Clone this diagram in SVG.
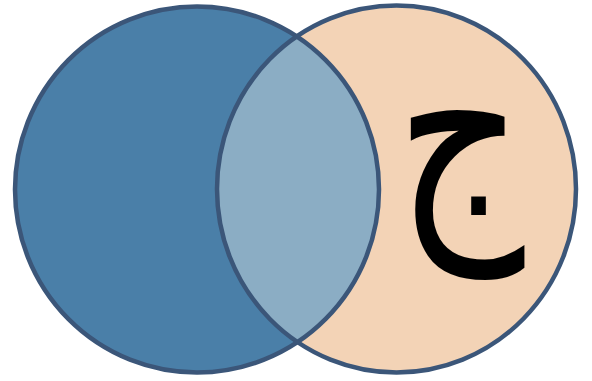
<svg xmlns="http://www.w3.org/2000/svg" width="592" height="381" viewBox="0 0 592 381">
<style>
.edge{fill:none;stroke:#3b5679;stroke-width:4.5}
.glyph{font-family:"DejaVu Sans","Noto Sans",sans-serif;fill:#000}
</style>
<defs>
<clipPath id="clipRight"><ellipse cx="396.5" cy="189" rx="179.5" ry="183.5"/></clipPath>
</defs>
<rect width="592" height="381" fill="#ffffff"/>
<g id="left-set">
<ellipse cx="197" cy="189.5" rx="182" ry="183" fill="#4a7fa8"/>
</g>
<g id="right-set">
<ellipse cx="396.5" cy="189" rx="179.5" ry="183.5" fill="#f3d3b6"/>
<text class="glyph" x="460" y="230" font-size="200" text-anchor="middle" transform="translate(0,275) scale(1,1.27) translate(0,-275)">ج</text>
</g>
<g id="intersection">
<ellipse cx="197" cy="189.5" rx="182" ry="183" fill="#8badc4" clip-path="url(#clipRight)"/>
</g>
<g id="outlines">
<ellipse class="edge" cx="197" cy="189.5" rx="182" ry="183"/>
<ellipse class="edge" cx="396.5" cy="189" rx="179.5" ry="183.5"/>
</g>
</svg>
